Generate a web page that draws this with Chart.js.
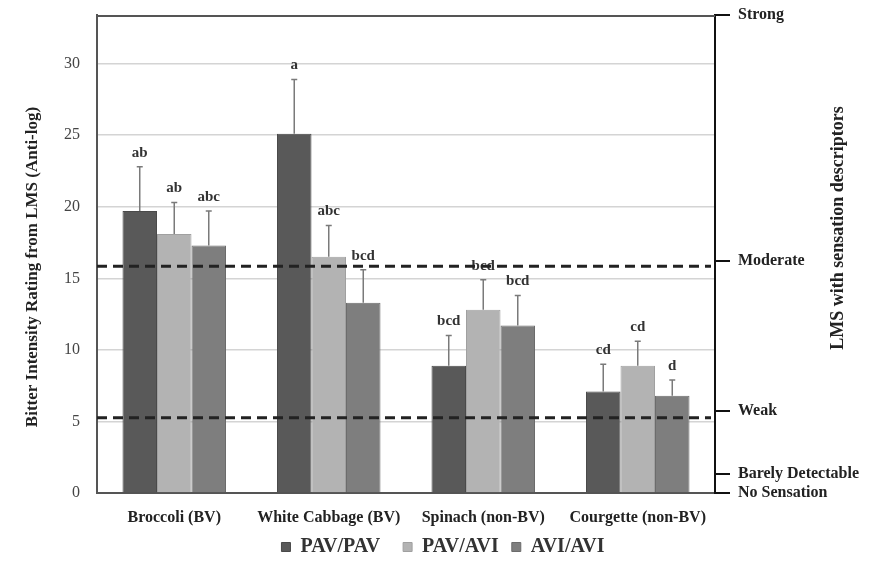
<!DOCTYPE html>
<html>
<head>
<meta charset="utf-8">
<script src="https://cdn.jsdelivr.net/npm/chart.js@4.4.1/dist/chart.umd.min.js"></script>
<style>
html,body{margin:0;padding:0;background:#fff;}
#wrap{width:869px;height:567px;position:relative;}
</style>
</head>
<body>
<div id="wrap"><canvas id="c" width="869" height="567"></canvas></div>
<script>
const categories = ['Broccoli (BV)', 'White Cabbage (BV)', 'Spinach (non-BV)', 'Courgette (non-BV)'];
const seriesNames = ['PAV/PAV', 'PAV/AVI', 'AVI/AVI'];
const pavPav = [19.7, 25.1, 8.9, 7.1];
const pavAvi = [18.1, 16.5, 12.8, 8.9];
const aviAvi = [17.3, 13.3, 11.7, 6.8];
const pavPavErr = [3.1, 3.8, 2.1, 1.9];
const pavAviErr = [2.2, 2.2, 2.1, 1.7];
const aviAviErr = [2.4, 2.3, 2.1, 1.1];
const pavPavLetters = ['ab', 'a', 'bcd', 'cd'];
const pavAviLetters = ['ab', 'abc', 'bcd', 'cd'];
const aviAviLetters = ['abc', 'bcd', 'bcd', 'd'];
const leftTicks = [0, 5, 10, 15, 20, 25, 30];
const lmsTicks = [0, 1.4, 6, 17, 35];
const lmsLabels = ['No Sensation', 'Barely Detectable', 'Weak', 'Moderate', 'Strong'];
const referenceLines = [15.85, 5.25];
const leftTitle = 'Bitter Intensity Rating from LMS (Anti-log)';
const rightTitle = 'LMS with sensation descriptors';

const SERIF = "'Liberation Serif', 'Times New Roman', serif";
const colors = ['#595959', '#b3b3b3', '#7e7e7e'];
const borders = ['#4a4a4a', '#a0a0a0', '#6c6c6c'];
const errs = [pavPavErr, pavAviErr, aviAviErr];
const letters = [pavPavLetters, pavAviLetters, aviAviLetters];
const legendGaps = ['   ', ' ', ''];

const extras = {
  id: 'extras',
  beforeDatasetsDraw(chart) {
    const ctx = chart.ctx, a = chart.chartArea;
    ctx.save();
    ctx.strokeStyle = '#555';
    ctx.lineWidth = 2;
    ctx.beginPath();
    ctx.moveTo(a.left, a.top + 1);
    ctx.lineTo(a.right, a.top + 1);
    ctx.stroke();
    ctx.restore();
  },
  afterDatasetsDraw(chart) {
    const ctx = chart.ctx, a = chart.chartArea, y = chart.scales.y;
    ctx.save();
    chart.data.datasets.forEach((ds, di) => {
      const meta = chart.getDatasetMeta(di);
      meta.data.forEach((bar, i) => {
        const topV = ds.data[i] + errs[di][i];
        const yt = y.getPixelForValue(topV);
        ctx.strokeStyle = '#7a7a7a';
        ctx.lineWidth = 1.5;
        ctx.beginPath();
        ctx.moveTo(bar.x, bar.y);
        ctx.lineTo(bar.x, yt);
        ctx.moveTo(bar.x - 3, yt);
        ctx.lineTo(bar.x + 3, yt);
        ctx.stroke();
        ctx.fillStyle = '#333';
        ctx.font = 'bold 15px ' + SERIF;
        ctx.textAlign = 'center';
        ctx.textBaseline = 'middle';
        ctx.fillText(letters[di][i], bar.x, yt - 14);
      });
    });
    ctx.strokeStyle = '#222';
    ctx.lineWidth = 3;
    ctx.setLineDash([10, 6]);
    referenceLines.forEach(v => {
      const py = y.getPixelForValue(v);
      ctx.beginPath();
      ctx.moveTo(a.left, py);
      ctx.lineTo(a.right - 4, py);
      ctx.stroke();
    });
    ctx.setLineDash([]);
    ctx.fillStyle = '#222';
    ctx.textAlign = 'center';
    ctx.textBaseline = 'middle';
    ctx.font = 'bold 17px ' + SERIF;
    ctx.save();
    ctx.translate(33, 267);
    ctx.rotate(-Math.PI / 2);
    ctx.fillText(leftTitle, 0, 0);
    ctx.restore();
    ctx.font = 'bold 18px ' + SERIF;
    ctx.save();
    ctx.translate(838, 228);
    ctx.rotate(-Math.PI / 2);
    ctx.fillText(rightTitle, 0, 0);
    ctx.restore();
    ctx.restore();
  }
};

new Chart(document.getElementById('c'), {
  type: 'bar',
  data: {
    labels: categories,
    datasets: [pavPav, pavAvi, aviAvi].map((d, i) => ({
      label: seriesNames[i],
      data: d,
      backgroundColor: colors[i],
      borderColor: borders[i],
      borderWidth: 1,
      categoryPercentage: 0.67,
      barPercentage: 1.0,
      yAxisID: 'y'
    }))
  },
  options: {
    responsive: false,
    animation: false,
    layout: { padding: { top: 15, left: 17, right: 0, bottom: 0 } },
    plugins: {
      tooltip: { enabled: false },
      legend: {
        position: 'bottom',
        labels: {
          font: { family: SERIF, size: 20, weight: 'bold' },
          color: '#333',
          boxWidth: 9,
          boxHeight: 9,
          padding: 8,
          generateLabels(chart) {
            const items = Chart.defaults.plugins.legend.labels.generateLabels(chart);
            items.forEach((it, i) => { it.text = it.text + legendGaps[i]; });
            return items;
          }
        }
      }
    },
    scales: {
      x: {
        grid: { display: false, drawTicks: false },
        border: { display: true, color: '#555', width: 2 },
        ticks: { font: { family: SERIF, size: 16, weight: 'bold' }, color: '#222', padding: 15 },
        afterFit(s) { s.height = 36; }
      },
      y: {
        position: 'left',
        min: 0,
        max: 33.4,
        afterBuildTicks(s) { s.ticks = leftTicks.map(v => ({ value: v })); },
        grid: { color: '#d4d4d4', lineWidth: 1.5, drawTicks: true, tickLength: 14, tickColor: 'rgba(0,0,0,0)' },
        border: { display: true, color: '#555', width: 2 },
        ticks: { font: { family: SERIF, size: 16, lineHeight: 1 }, color: '#444', padding: 3 },
        afterFit(s) { s.width = 80; }
      },
      y2: {
        position: 'right',
        min: 0,
        max: 35,
        afterBuildTicks(s) { s.ticks = lmsTicks.map(v => ({ value: v })); },
        grid: { drawOnChartArea: false, drawTicks: true, tickLength: 15, color: '#111', lineWidth: 2 },
        border: { display: true, color: '#111', width: 2 },
        ticks: {
          autoSkip: false,
          font: { family: SERIF, size: 16, weight: 'bold', lineHeight: 0.8 },
          color: '#222',
          padding: 8,
          callback: (v, i) => lmsLabels[lmsTicks.indexOf(v)]
        },
        afterFit(s) { s.width = 154; }
      }
    }
  },
  plugins: [extras]
});
</script>
</body>
</html>
